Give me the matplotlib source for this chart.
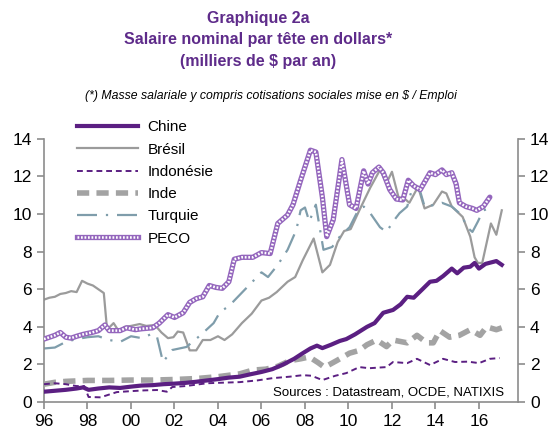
import matplotlib
matplotlib.use("Agg")
import matplotlib.pyplot as plt
from matplotlib.lines import Line2D

plt.rcParams['font.family'] = ['Liberation Sans', 'DejaVu Sans']

# values (milliers de $ par an)
chine_x = [1996.0, 1996.5, 1997.0, 1997.5, 1997.8, 1998.05, 1998.5, 1999.0, 1999.5, 2000.0,
           2000.5, 2001.0, 2001.5, 2002.0, 2002.5, 2003.0, 2003.5, 2004.0, 2004.5, 2005.0,
           2005.5, 2006.0, 2006.5, 2007.0, 2007.5, 2007.9, 2008.25, 2008.55, 2008.8, 2009.2,
           2009.6, 2009.9, 2010.3, 2010.85, 2011.2, 2011.6, 2012.05, 2012.4, 2012.7, 2013.0,
           2013.4, 2013.75, 2014.05, 2014.35, 2014.75, 2015.0, 2015.3, 2015.6, 2015.8, 2016.0,
           2016.3, 2016.8, 2017.05]
chine_y = [0.55, 0.6, 0.65, 0.72, 0.78, 0.65, 0.72, 0.78, 0.75, 0.82,
           0.88, 0.9, 0.95, 0.98, 1.02, 1.08, 1.15, 1.22, 1.3, 1.35,
           1.48, 1.6, 1.75, 2.0, 2.3, 2.6, 2.85, 3.0, 2.87, 3.05,
           3.25, 3.35, 3.6, 4.0, 4.2, 4.75, 4.9, 5.2, 5.6, 5.55,
           6.0, 6.4, 6.45, 6.7, 7.1, 6.85, 7.15, 7.2, 7.4, 7.1,
           7.35, 7.5, 7.3]

bresil_x = [1996.0, 1996.25, 1996.5, 1996.75, 1997.0, 1997.25, 1997.5, 1997.75, 1998.0, 1998.25,
            1998.5, 1998.75, 1998.9, 1999.2, 1999.45, 1999.7, 2000.0, 2000.4, 2000.7, 2001.1,
            2001.4, 2001.7, 2001.95, 2002.15, 2002.4, 2002.7, 2003.0, 2003.3, 2003.65, 2004.0,
            2004.3, 2004.65, 2005.1, 2005.55, 2006.0, 2006.35, 2006.7, 2007.2, 2007.55, 2007.9,
            2008.4, 2008.8, 2009.15, 2009.5, 2009.8, 2010.1, 2010.5, 2011.0, 2011.45, 2011.75,
            2012.0, 2012.3, 2012.55, 2012.8, 2013.2, 2013.5, 2013.9, 2014.3, 2014.5, 2014.75,
            2015.25, 2015.6, 2015.8, 2015.95, 2016.15, 2016.55, 2016.8, 2017.05]
bresil_y = [5.45, 5.55, 5.6, 5.75, 5.8, 5.9, 5.85, 6.45, 6.3, 6.2,
            6.0, 5.8, 3.85, 4.2, 3.75, 4.0, 4.05, 4.15, 4.05, 4.1,
            3.7, 3.4, 3.45, 3.75, 3.7, 2.75, 2.75, 3.3, 3.3, 3.5,
            3.3, 3.6, 4.2, 4.7, 5.4, 5.55, 5.85, 6.4, 6.65, 7.55,
            8.7, 6.9, 7.3, 8.5, 9.1, 9.2, 10.2, 11.4, 12.35, 11.65,
            12.25, 10.9, 10.85, 10.6, 11.45, 10.3, 10.5, 11.2, 11.1, 10.4,
            9.85, 8.8, 7.7, 7.4, 7.4, 9.5, 8.9, 10.2]

indo_x = [1996.0, 1996.5, 1997.0, 1997.5, 1997.85, 1998.05, 1998.6, 1999.0, 1999.35, 2000.0,
          2000.6, 2001.2, 2001.65, 2001.9, 2002.5, 2003.5, 2004.2, 2005.0, 2005.8, 2006.5,
          2007.3, 2007.9, 2008.3, 2008.8, 2009.4, 2009.9, 2010.5, 2010.95, 2011.75, 2012.05,
          2012.7, 2013.15, 2013.75, 2014.35, 2014.9, 2015.5, 2016.0, 2016.5, 2016.95]
indo_y = [0.95, 1.0, 0.95, 0.85, 0.85, 0.27, 0.25, 0.4, 0.53, 0.58,
          0.62, 0.64, 0.55, 0.8, 0.85, 1.0, 1.03, 1.06, 1.15, 1.27,
          1.35, 1.43, 1.4, 1.17, 1.4, 1.54, 1.86, 1.8, 1.86, 2.13,
          2.07, 2.3, 1.97, 2.3, 2.13, 2.15, 2.07, 2.3, 2.34]

inde_x = [1996.0, 1996.5, 1997.0, 1998.0, 1999.0, 2000.0, 2001.0, 2002.0, 2003.0, 2004.0,
          2005.0, 2005.6, 2006.2, 2006.75, 2007.3, 2007.8, 2008.2, 2008.6, 2008.9, 2009.45,
          2010.05, 2010.5, 2010.85, 2011.3, 2011.75, 2012.05, 2012.7, 2013.15, 2013.6, 2013.9,
          2014.2, 2014.65, 2015.1, 2015.6, 2016.05, 2016.35, 2016.8, 2017.05]
inde_y = [0.95, 1.05, 1.1, 1.15, 1.15, 1.17, 1.17, 1.2, 1.25, 1.35,
          1.5, 1.7, 1.75, 1.9, 2.2, 2.3, 2.4, 2.1, 1.85, 2.2,
          2.6, 2.75, 3.05, 3.3, 2.95, 3.3, 3.15, 3.55, 3.15, 3.15,
          3.8, 3.45, 3.55, 3.85, 3.55, 4.0, 3.85, 3.95]

turq_x = [1996.0, 1996.5, 1997.0, 1997.5, 1998.0, 1998.5, 1999.0, 1999.5, 2000.0, 2000.5,
          2001.0, 2001.2, 2001.47, 2001.9, 2002.55, 2003.2, 2003.8, 2004.1, 2004.5, 2005.0,
          2005.5, 2006.0, 2006.3, 2006.75, 2007.2, 2007.6, 2007.8, 2008.0, 2008.2, 2008.5,
          2008.85, 2009.25, 2009.6, 2010.05, 2010.4, 2010.7, 2011.0, 2011.45, 2011.75, 2012.05,
          2012.35, 2012.7, 2012.95, 2013.3, 2013.5, 2014.05, 2014.3, 2014.75, 2015.2, 2015.45,
          2015.7, 2015.95, 2016.2, 2016.5]
turq_y = [2.85, 2.9, 3.2, 3.35, 3.45, 3.5, 3.3, 3.2, 3.5, 3.4,
          3.65, 3.45, 2.13, 2.77, 2.93, 3.56, 4.2, 4.8, 5.1, 5.7,
          6.3, 6.9, 6.65, 7.3, 8.1, 9.15, 10.2, 10.35, 9.6, 10.5,
          8.1, 8.25, 8.8, 9.3, 10.1, 10.4, 10.05, 9.3, 9.05, 9.6,
          10.05, 10.4, 11.45, 11.2, 10.4, 10.5, 10.6, 10.4, 9.95, 9.3,
          9.05, 9.6, 10.2, 10.3]

peco_x = [1996.0, 1996.25, 1996.5, 1996.75, 1997.0, 1997.25, 1997.5, 1997.8, 1998.2, 1998.5,
          1998.8, 1999.0, 1999.5, 1999.8, 2000.2, 2000.5, 2001.0, 2001.3, 2001.7, 2002.0,
          2002.4, 2002.7, 2003.0, 2003.3, 2003.6, 2003.9, 2004.2, 2004.5, 2004.75, 2005.1,
          2005.6, 2006.0, 2006.4, 2006.75, 2007.2, 2007.45, 2007.8, 2008.25, 2008.5, 2008.8,
          2009.0, 2009.3, 2009.7, 2010.05, 2010.35, 2010.7, 2010.9, 2011.1, 2011.4, 2011.6,
          2011.9, 2012.2, 2012.5, 2012.75, 2013.0, 2013.3, 2013.75, 2014.0, 2014.3, 2014.5,
          2014.75, 2014.95, 2015.1, 2015.4, 2015.7, 2015.9, 2016.2, 2016.5]
peco_y = [3.35, 3.45, 3.55, 3.7, 3.45, 3.4, 3.5, 3.6, 3.7, 3.8,
          4.1, 3.8, 3.8, 3.95, 3.85, 3.9, 3.95, 4.2, 4.65, 4.5,
          4.75, 5.3, 5.5, 5.6, 6.2, 6.1, 6.05, 6.4, 7.6, 7.7,
          7.7, 7.95, 7.9, 9.5, 9.95, 10.5, 11.8, 13.4, 13.3, 10.9,
          8.8, 9.7, 12.9, 10.5, 10.3, 12.3, 11.6, 12.2, 12.5, 12.2,
          11.3, 10.8, 10.75, 11.8, 11.5, 11.3, 12.2, 12.1, 12.35, 12.1,
          12.2, 11.6, 10.6, 10.4, 10.3, 10.2, 10.4, 10.9]

x_ticks = [1996, 1998, 2000, 2002, 2004, 2006, 2008, 2010, 2012, 2014, 2016]
x_labels = ['96', '98', '00', '02', '04', '06', '08', '10', '12', '14', '16']
y_ticks = [0, 2, 4, 6, 8, 10, 12, 14]

purple = '#5b1f82'
peco_purple = '#9466bd'
title_purple = '#5e2b8a'
spine_gray = '#8c8c8c'

fig = plt.figure(figsize=(5.5, 4.3), dpi=100)
ax = fig.add_axes([0.08, 0.065, 0.862, 0.612])

ax.plot(bresil_x, bresil_y, color='#9b9b9b', lw=1.6, zorder=2)
ax.plot(turq_x, turq_y, color='#7f9dab', lw=1.6, dashes=(9, 4, 1, 4), zorder=2)
# PECO: purple band with white dots on top
ax.plot(peco_x, peco_y, color=peco_purple, lw=3.8, zorder=3, solid_capstyle='round')
ax.plot(peco_x, peco_y, color='white', lw=1.8, dashes=(0.7, 0.7), zorder=3)
ax.plot(inde_x, inde_y, color='#a3a3a3', lw=4.0, dashes=(2.2, 1.3), zorder=4)
ax.plot(indo_x, indo_y, color=purple, lw=1.4, dashes=(3, 2), zorder=4)
ax.plot(chine_x, chine_y, color=purple, lw=3.0, zorder=5)

# legend handles in the reference order
h_chine = Line2D([], [], color=purple, lw=3.0)
h_bresil = Line2D([], [], color='#9b9b9b', lw=1.6)
h_indo = Line2D([], [], color=purple, lw=1.4, dashes=(3, 2))
h_inde = Line2D([], [], color='#a3a3a3', lw=4.0, dashes=(2.2, 1.3))
h_turq = Line2D([], [], color='#7f9dab', lw=1.6, dashes=(9, 4, 1, 4))
h_peco = Line2D([], [], color=peco_purple, lw=3.8)
h_peco2 = Line2D([], [], color='white', lw=1.8, dashes=(0.7, 0.7))
ax.legend([h_chine, h_bresil, h_indo, h_inde, h_turq, (h_peco, h_peco2)],
          ['Chine', 'Brésil', 'Indonésie', 'Inde', 'Turquie', 'PECO'],
          loc='upper left', bbox_to_anchor=(0.07, 1.07), frameon=False,
          fontsize=11, handlelength=4.0, handletextpad=0.6, labelspacing=0.54,
          borderpad=0, borderaxespad=0)

ax.set_xlim(1996, 2017.8)
ax.set_ylim(0, 14)
ax.set_xticks(x_ticks)
ax.set_xticklabels(x_labels)
ax.set_yticks(y_ticks)
ax.tick_params(axis='both', labelsize=12.5, colors=spine_gray, labelcolor='black',
               direction='out', length=5, width=1.2)
ax.tick_params(axis='y', right=True, labelright=True)
ax.spines['top'].set_visible(False)
for s in ['left', 'right', 'bottom']:
    ax.spines[s].set_color(spine_gray)
    ax.spines[s].set_linewidth(1.2)

ax.text(0.97, 0.012, 'Sources : Datastream, OCDE, NATIXIS', transform=ax.transAxes,
        ha='right', va='bottom', fontsize=9.5)

fig.text(0.47, 0.958, 'Graphique 2a', ha='center', va='center', fontsize=11.5,
         fontweight='bold', color=title_purple)
fig.text(0.47, 0.907, 'Salaire nominal par tête en dollars*', ha='center', va='center',
         fontsize=11.5, fontweight='bold', color=title_purple)
fig.text(0.47, 0.856, '(milliers de $ par an)', ha='center', va='center', fontsize=11.5,
         fontweight='bold', color=title_purple)
fig.text(0.493, 0.777, '(*) Masse salariale y compris cotisations sociales mise en $ / Emploi',
         ha='center', va='center', fontsize=8.8, style='italic')

fig.savefig('out.png', dpi=100)
